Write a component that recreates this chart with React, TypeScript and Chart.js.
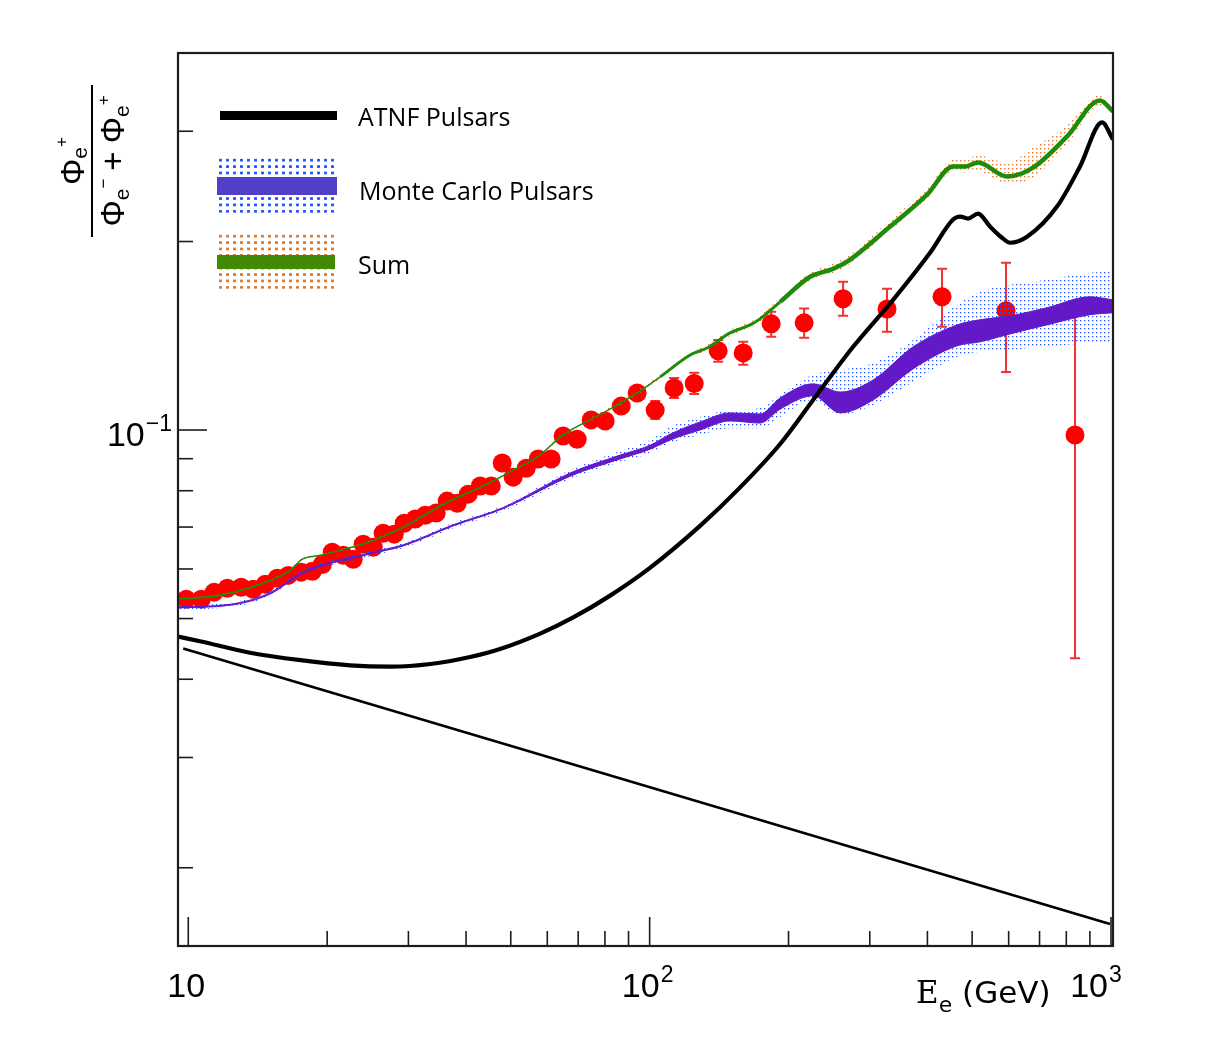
import { useEffect, useRef } from 'react';
import Chart from 'chart.js/auto';

// ---- axis ticks ----
const xMajorTicks = [10, 100, 1000];
const xLabelExps = ['', '2', '3'];
const xMinorTicks = [20, 30, 40, 50, 60, 70, 80, 90, 200, 300, 400, 500, 600, 700, 800, 900];
const yMajorTicks = [0.1];
const yLabelExps = ['\u22121'];
const yMinorTicks = [0.02, 0.03, 0.04, 0.05, 0.06, 0.07, 0.08, 0.09, 0.2, 0.3];

// ---- measured positron fraction ----
const dataEnergy = [9.9, 10.67, 11.38, 12.15, 13.02, 13.83, 14.68, 15.59, 16.47, 17.57, 18.57, 19.52, 20.51, 21.67, 22.78, 23.94, 25.17, 26.45, 27.95, 29.38, 31.04, 32.63, 34.46, 36.4, 38.28, 40.44, 42.93, 45.36, 47.91, 50.61, 54.01, 57.34, 61.17, 64.94, 69.64, 74.68, 80.09, 86.77, 93.96, 102.8, 113.0, 124.9, 140.8, 159.5, 183.4, 216.2, 262.6, 327.0, 430.3, 592.2, 835.6];
const dataRatio = [0.0537, 0.0537, 0.0551, 0.0559, 0.0561, 0.0557, 0.0567, 0.058, 0.0586, 0.0593, 0.0595, 0.061, 0.0638, 0.0631, 0.0622, 0.0657, 0.065, 0.0684, 0.0682, 0.071, 0.0721, 0.0731, 0.0737, 0.077, 0.0764, 0.079, 0.0814, 0.0814, 0.0886, 0.0841, 0.0869, 0.0899, 0.0899, 0.0978, 0.0967, 0.1038, 0.1034, 0.1092, 0.1146, 0.1076, 0.1167, 0.1187, 0.1338, 0.1328, 0.1478, 0.1483, 0.162, 0.1561, 0.1632, 0.155, 0.0982];
const errDown = [0.0006, 0.0006, 0.0006, 0.0006, 0.0006, 0.0006, 0.0007, 0.0007, 0.0007, 0.0007, 0.0007, 0.0008, 0.0008, 0.0008, 0.0008, 0.0009, 0.0009, 0.0009, 0.001, 0.001, 0.0011, 0.0011, 0.0012, 0.0012, 0.0013, 0.0013, 0.0014, 0.0014, 0.0015, 0.0016, 0.0017, 0.0018, 0.0019, 0.002, 0.0021, 0.0022, 0.0023, 0.0024, 0.0025, 0.0035, 0.0042, 0.0045, 0.0053, 0.0057, 0.0069, 0.0079, 0.0098, 0.0126, 0.017, 0.0312, 0.055];
const errUp = [0.0006, 0.0006, 0.0006, 0.0006, 0.0006, 0.0006, 0.0007, 0.0007, 0.0007, 0.0007, 0.0007, 0.0008, 0.0008, 0.0008, 0.0008, 0.0009, 0.0009, 0.0009, 0.001, 0.001, 0.0011, 0.0011, 0.0012, 0.0012, 0.0013, 0.0013, 0.0014, 0.0014, 0.0015, 0.0016, 0.0017, 0.0018, 0.0019, 0.002, 0.0021, 0.0022, 0.0023, 0.0024, 0.0025, 0.0037, 0.0044, 0.0047, 0.0055, 0.0055, 0.0067, 0.008, 0.0105, 0.012, 0.0177, 0.03, 0.0574];

// ---- ATNF pulsars ----
const atnfEnergy = [9.5, 10.6, 13.6, 17.5, 22.4, 27.4, 33.5, 40.8, 47.4, 57.9, 68.3, 82.1, 100.3, 128.6, 157.1, 191.8, 226.1, 276.1, 337.0, 405.3, 454.7, 470.9, 489.9, 515.0, 546.8, 580.6, 604.2, 657.7, 763.8, 856.6, 956.1, 1010];
const atnfRatio = [0.0468, 0.046, 0.0441, 0.0429, 0.0421, 0.0419, 0.0423, 0.0434, 0.0447, 0.0473, 0.0502, 0.0544, 0.0603, 0.0703, 0.081, 0.095, 0.1117, 0.1358, 0.1614, 0.1919, 0.2168, 0.2192, 0.2176, 0.2216, 0.2113, 0.2028, 0.1991, 0.2035, 0.2274, 0.2635, 0.3099, 0.2911];

// ---- secondary (power law) ----
const secEnergy = [9.75, 995];
const secRatio = [0.0448, 0.01626];

// ---- Monte Carlo pulsars ----
const mcEnergy = [9.51, 12.33, 15.05, 17.75, 24.8, 29.24, 37.52, 48.15, 67.25, 86.31, 100.3, 110.8, 128.6, 149.4, 173.5, 191.8, 226.1, 258.7, 305.0, 372.4, 463.8, 520.2, 604.2, 726.5, 900.6, 1010];
const mcHigh = [0.0522, 0.0527, 0.055, 0.0594, 0.0637, 0.0656, 0.0706, 0.0752, 0.0854, 0.0912, 0.0946, 0.0985, 0.103, 0.1065, 0.1061, 0.1125, 0.1185, 0.115, 0.1202, 0.1358, 0.1472, 0.15, 0.1522, 0.1568, 0.1632, 0.1614];
const mcLow = [0.052, 0.0525, 0.0547, 0.0591, 0.0634, 0.0653, 0.0703, 0.0749, 0.0844, 0.0899, 0.0932, 0.0964, 0.1, 0.1034, 0.1026, 0.108, 0.1134, 0.1065, 0.1117, 0.1252, 0.1363, 0.1383, 0.1424, 0.1472, 0.1528, 0.1539];
const mcBandHigh = [0.0525, 0.053, 0.0553, 0.0597, 0.0641, 0.066, 0.0711, 0.0757, 0.0863, 0.0926, 0.0964, 0.1011, 0.1049, 0.1076, 0.1084, 0.114, 0.1225, 0.1247, 0.128, 0.1393, 0.1585, 0.1663, 0.1706, 0.1738, 0.1783, 0.179];
const mcBandLow = [0.0517, 0.0521, 0.0544, 0.0588, 0.0629, 0.0648, 0.0697, 0.0742, 0.0835, 0.0889, 0.0919, 0.0953, 0.0982, 0.1007, 0.1007, 0.1049, 0.1117, 0.1057, 0.1096, 0.1193, 0.1309, 0.1333, 0.1343, 0.1358, 0.1378, 0.1383];

// ---- Sum ----
const sumEnergy = [9.47, 11.73, 15.05, 16.63, 17.66, 19.32, 24.8, 29.24, 36.41, 38.85, 44.46, 50.61, 57.04, 64.94, 79.3, 93.96, 105.4, 122.4, 133.2, 149.4, 165.1, 173.5, 191.8, 222.8, 249.8, 267.9, 331.9, 399.3, 454.7, 482.6, 515.0, 595.2, 677.7, 802.9, 946.7, 1010];
const sumRatio = [0.0537, 0.0545, 0.0575, 0.0597, 0.0622, 0.0631, 0.0664, 0.07, 0.0767, 0.0784, 0.082, 0.0863, 0.0905, 0.0982, 0.1065, 0.1146, 0.1216, 0.1318, 0.1352, 0.1429, 0.1472, 0.1505, 0.1602, 0.1757, 0.1809, 0.1857, 0.2113, 0.2377, 0.2635, 0.2635, 0.2675, 0.254, 0.2625, 0.2943, 0.336, 0.3227];
const sumBandHigh = [0.0538, 0.0546, 0.0578, 0.0599, 0.0624, 0.0633, 0.0667, 0.0702, 0.077, 0.0787, 0.0823, 0.0866, 0.0909, 0.0985, 0.1073, 0.1155, 0.1225, 0.1328, 0.1368, 0.1445, 0.1489, 0.1522, 0.1626, 0.1783, 0.1843, 0.1892, 0.216, 0.243, 0.2704, 0.2714, 0.2744, 0.2674, 0.2826, 0.3065, 0.3423, 0.3275];
const sumBandLow = [0.0535, 0.0542, 0.0573, 0.0595, 0.0619, 0.0629, 0.0662, 0.0697, 0.0764, 0.0781, 0.0817, 0.086, 0.0902, 0.0978, 0.1057, 0.1138, 0.1207, 0.1309, 0.1338, 0.1414, 0.1457, 0.1489, 0.1585, 0.1732, 0.1783, 0.183, 0.2082, 0.2342, 0.2587, 0.2578, 0.2587, 0.2475, 0.253, 0.2858, 0.3299, 0.318];

const PURPLE = '#6419c8';
const GREEN = '#1e8c0a';
const BLUE_DOT = '#1f55ff';
const ORANGE_DOT = '#e0782e';
const RED = '#ff0000';
const TICK_FONT = '"Liberation Sans", Arimo, Arial, sans-serif';

const toPoints = (xs: number[], ys: number[]) => xs.map((x, i) => ({ x, y: ys[i] }));

function dotPattern(ctx: CanvasRenderingContext2D, color: string, cell: number, dot: number) {
  const c = document.createElement('canvas');
  c.width = cell;
  c.height = cell;
  const g = c.getContext('2d')!;
  g.fillStyle = color;
  g.fillRect(0, 0, dot, dot);
  return ctx.createPattern(c, 'repeat')!;
}

// error bars, drawn under the markers
const errorBarPlugin = {
  id: 'errorBars',
  beforeDatasetDraw(chart: any, args: any) {
    if (chart.data.datasets[args.index].label !== 'data') return;
    const { ctx, chartArea: a, scales } = chart;
    ctx.save();
    ctx.beginPath();
    ctx.rect(a.left, a.top, a.right - a.left, a.bottom - a.top);
    ctx.clip();
    ctx.strokeStyle = '#f23232';
    ctx.lineWidth = 2;
    dataEnergy.forEach((e, i) => {
      const px = scales.x.getPixelForValue(e);
      const top = scales.y.getPixelForValue(dataRatio[i] + errUp[i]);
      const bot = scales.y.getPixelForValue(dataRatio[i] - errDown[i]);
      ctx.beginPath();
      ctx.moveTo(px, top);
      ctx.lineTo(px, bot);
      ctx.moveTo(px - 5, top);
      ctx.lineTo(px + 5, top);
      ctx.moveTo(px - 5, bot);
      ctx.lineTo(px + 5, bot);
      ctx.stroke();
    });
    ctx.restore();
  },
};

function powerLabel(ctx: CanvasRenderingContext2D, exp: string, anchorX: number, baseline: number, align: 'center' | 'right') {
  const big = `34px ${TICK_FONT}`;
  const small = `23px ${TICK_FONT}`;
  ctx.font = big;
  const wb = ctx.measureText('10').width;
  ctx.font = small;
  const we = exp ? ctx.measureText(exp).width + 1 : 0;
  const total = wb + we;
  const left = align === 'center' ? anchorX - total / 2 : anchorX - total;
  ctx.textAlign = 'left';
  ctx.textBaseline = 'alphabetic';
  ctx.font = big;
  ctx.fillText('10', left, baseline);
  if (exp) {
    ctx.font = small;
    ctx.fillText(exp, left + wb + 1, baseline - 15);
  }
}

// ROOT-like frame with inside ticks
const framePlugin = {
  id: 'rootFrame',
  afterDraw(chart: any) {
    const { ctx, chartArea: a, scales } = chart;
    const { x, y } = scales;
    ctx.save();
    ctx.strokeStyle = '#1c1c1c';
    ctx.lineWidth = 1.6;
    const seg = (x0: number, y0: number, x1: number, y1: number) => {
      ctx.beginPath();
      ctx.moveTo(x0, y0);
      ctx.lineTo(x1, y1);
      ctx.stroke();
    };
    xMajorTicks.forEach((v) => { const p = x.getPixelForValue(v); seg(p, a.bottom, p, a.bottom - 29); });
    xMinorTicks.forEach((v) => { const p = x.getPixelForValue(v); seg(p, a.bottom, p, a.bottom - 15); });
    yMajorTicks.forEach((v) => { const p = y.getPixelForValue(v); seg(a.left, p, a.left + 29, p); });
    yMinorTicks.forEach((v) => { const p = y.getPixelForValue(v); seg(a.left, p, a.left + 15, p); });
    ctx.lineWidth = 2.2;
    ctx.strokeRect(a.left, a.top, a.right - a.left, a.bottom - a.top);
    ctx.fillStyle = '#000';
    const xShift = [-2, -2, -15];
    xMajorTicks.forEach((v, i) => powerLabel(ctx, xLabelExps[i], x.getPixelForValue(v) + xShift[i], a.bottom + 51, 'center'));
    yMajorTicks.forEach((v, i) => powerLabel(ctx, yLabelExps[i], a.left - 6, y.getPixelForValue(v) + 16, 'right'));
    ctx.restore();
  },
};

const App = () => {
  const canvasRef = useRef<HTMLCanvasElement>(null);
  const chartRef = useRef<Chart | null>(null);

  useEffect(() => {
    if (!canvasRef.current) return;
    const ctx = canvasRef.current.getContext('2d');
    if (!ctx) return;
    if (chartRef.current) chartRef.current.destroy();

    const blueDots = dotPattern(ctx, BLUE_DOT, 4, 1.3);
    const orangeDots = dotPattern(ctx, ORANGE_DOT, 4, 1.4);
    const line = { pointRadius: 0, cubicInterpolationMode: 'monotone' as const };

    chartRef.current = new Chart(ctx, {
      type: 'line',
      data: {
        datasets: [
          {
            label: 'data', data: toPoints(dataEnergy, dataRatio), showLine: false,
            pointRadius: 9.5, pointBackgroundColor: RED, pointBorderWidth: 0, order: 10,
          },
          { label: 'mcBandHigh', data: toPoints(mcEnergy, mcBandHigh), ...line, borderWidth: 0, backgroundColor: blueDots, fill: '+1', order: 9 },
          { label: 'mcBandLow', data: toPoints(mcEnergy, mcBandLow), ...line, borderWidth: 0, fill: false, order: 9 },
          { label: 'mcHigh', data: toPoints(mcEnergy, mcHigh), ...line, borderWidth: 1, borderColor: PURPLE, backgroundColor: PURPLE, fill: '+1', order: 8 },
          { label: 'mcLow', data: toPoints(mcEnergy, mcLow), ...line, borderWidth: 1, borderColor: PURPLE, fill: false, order: 8 },
          { label: 'secondary', data: toPoints(secEnergy, secRatio), pointRadius: 0, borderWidth: 2.6, borderColor: '#000', fill: false, order: 7 },
          { label: 'ATNF Pulsars', data: toPoints(atnfEnergy, atnfRatio), ...line, borderWidth: 4.2, borderColor: '#000', fill: false, order: 6 },
          { label: 'sumBandHigh', data: toPoints(sumEnergy, sumBandHigh), ...line, borderWidth: 0, backgroundColor: orangeDots, fill: '+1', order: 5 },
          { label: 'sumBandLow', data: toPoints(sumEnergy, sumBandLow), ...line, borderWidth: 0, fill: false, order: 5 },
          {
            label: 'Sum', data: toPoints(sumEnergy, sumRatio), ...line, borderColor: GREEN, fill: false, order: 4,
            segment: {
              borderWidth: (c: any) => (c.p0.parsed.x < 95 ? 1.6 : c.p0.parsed.x < 180 ? 3 : 4.5),
            },
          },
        ],
      },
      options: {
        responsive: false,
        maintainAspectRatio: false,
        animation: false,
        events: [],
        layout: { padding: { left: 178, top: 53, right: 105, bottom: 112 } },
        plugins: { legend: { display: false }, tooltip: { enabled: false } },
        scales: {
          x: { type: 'logarithmic', min: 9.5, max: 1010, display: false },
          y: { type: 'logarithmic', min: 0.015, max: 0.4, display: false },
        },
      },
      plugins: [errorBarPlugin, framePlugin],
    } as any);

    return () => {
      if (chartRef.current) {
        chartRef.current.destroy();
        chartRef.current = null;
      }
    };
  }, []);

  const legendText: React.CSSProperties = {
    position: 'absolute', left: 358, fontFamily: '"Open Sans", "Noto Sans", sans-serif',
    fontSize: 25, lineHeight: '30px', color: '#000', whiteSpace: 'nowrap',
  };
  const dots = (color: string): React.CSSProperties => ({
    backgroundImage: `radial-gradient(circle, ${color} 0 1.3px, transparent 1.7px)`,
    backgroundSize: '7px 6.4px',
  });
  const phi: React.CSSProperties = { fontSize: 33 };
  const sub: React.CSSProperties = { fontSize: 21, position: 'relative', top: 9 };
  const supp: React.CSSProperties = { fontSize: 17, position: 'relative', top: -20 };

  return (
    <div style={{ position: 'absolute', left: 0, top: 0, width: 1218, height: 1058, background: '#fff', overflow: 'hidden' }}>
      <canvas ref={canvasRef} width={1218} height={1058} style={{ display: 'block', width: 1218, height: 1058 }} />

      {/* legend */}
      <div style={{ position: 'absolute', left: 220, top: 111, width: 117, height: 9, background: '#000' }} />
      <div style={{ ...legendText, top: 101 }}>ATNF Pulsars</div>
      <div style={{ position: 'absolute', left: 217, top: 157, width: 120, height: 56, ...dots(BLUE_DOT) }} />
      <div style={{ position: 'absolute', left: 217, top: 177, width: 120, height: 18, background: '#5040c8' }} />
      <div style={{ ...legendText, top: 175, left: 359 }}>Monte Carlo Pulsars</div>
      <div style={{ position: 'absolute', left: 217, top: 233, width: 118, height: 58, ...dots(ORANGE_DOT) }} />
      <div style={{ position: 'absolute', left: 217, top: 255, width: 118, height: 14, background: '#428a00' }} />
      <div style={{ ...legendText, top: 249 }}>Sum</div>

      {/* y title: fraction, rotated */}
      <div
        style={{
          position: 'absolute', left: 92 - 80, top: 161 - 44, width: 160, height: 88,
          transform: 'rotate(-90deg)', transformOrigin: '50% 50%',
          fontFamily: TICK_FONT, color: '#000', display: 'flex', flexDirection: 'column',
        }}
      >
        <div style={{ height: 43, display: 'flex', justifyContent: 'center', alignItems: 'flex-end', lineHeight: '36px' }}>
          <span style={phi}>Φ</span>
          <span style={sub}>e<span style={supp}>+</span></span>
        </div>
        <div style={{ height: 2, background: '#000', margin: '0 4px' }} />
        <div style={{ height: 43, display: 'flex', justifyContent: 'center', alignItems: 'flex-start', lineHeight: '40px', whiteSpace: 'nowrap' }}>
          <span style={phi}>Φ</span>
          <span style={sub}>e<span style={supp}>−</span></span>
          <span style={{ fontSize: 33, margin: '0 8px' }}>+</span>
          <span style={phi}>Φ</span>
          <span style={sub}>e<span style={supp}>+</span></span>
        </div>
      </div>

      {/* x title */}
      <div style={{ position: 'absolute', left: 916, top: 972, whiteSpace: 'nowrap', color: '#000', lineHeight: '40px' }}>
        <span style={{ fontFamily: '"DejaVu Serif", "Liberation Serif", serif', fontSize: 31 }}>E</span>
        <span style={{ fontFamily: '"DejaVu Sans", sans-serif', fontSize: 22, position: 'relative', top: 9 }}>e</span>
        <span style={{ fontFamily: '"DejaVu Sans", sans-serif', fontSize: 31 }}> (GeV)</span>
      </div>
    </div>
  );
};

export default App;
